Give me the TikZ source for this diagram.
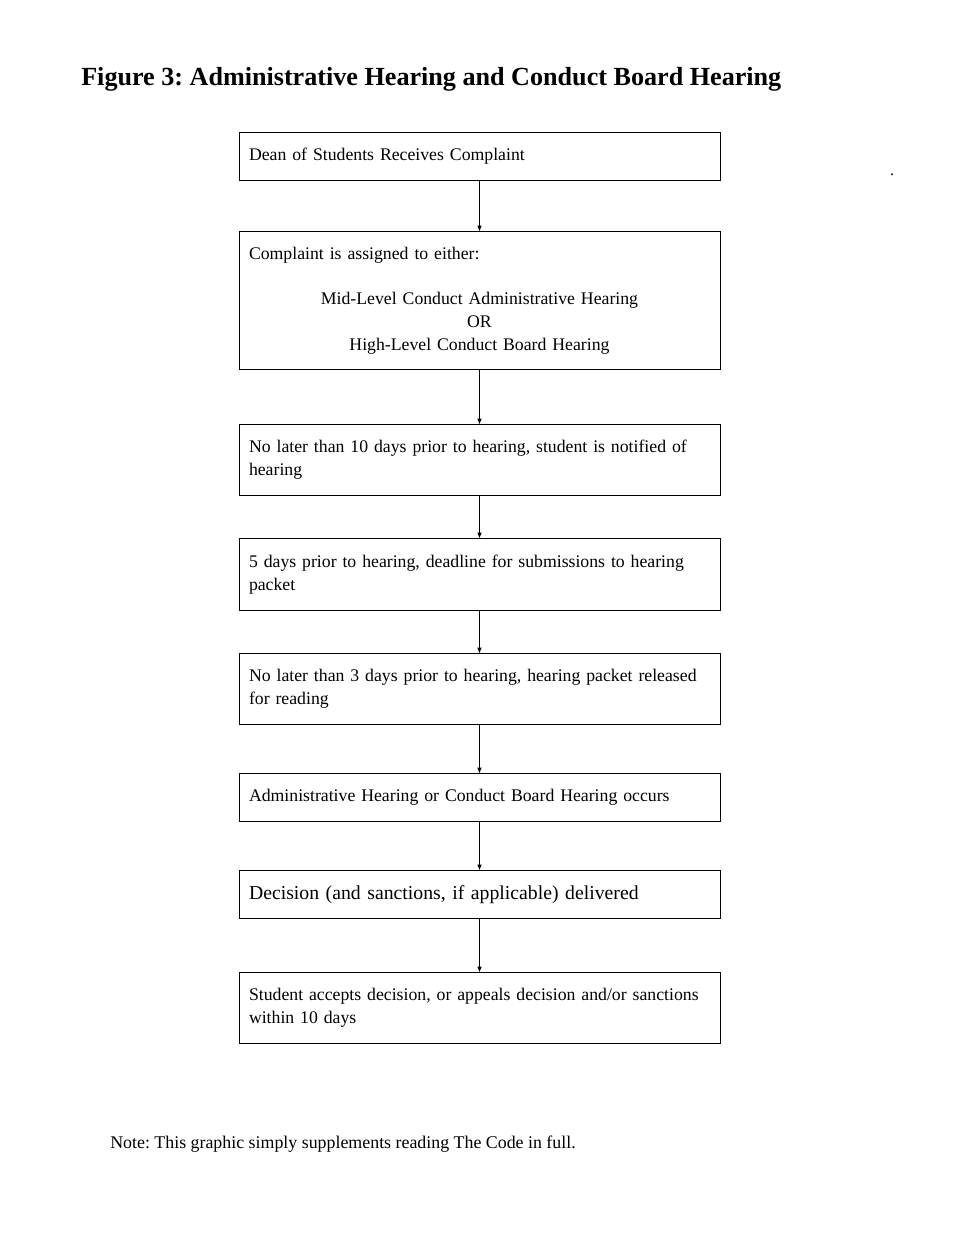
\documentclass[tikz,border=0pt]{standalone}
\usepackage{fontspec}
\setmainfont{Liberation Serif}
\usetikzlibrary{arrows.meta}
\frenchspacing
\begin{document}
\begin{tikzpicture}[x=0.75pt,y=-0.75pt,
  flowbox/.style={draw, line width=0.75pt, minimum width=481*0.75pt, inner xsep=10*0.75pt, inner ysep=0pt,
    text width=461*0.75pt, anchor=north, font=\frenchspacing\fontsize{13.3}{17}\selectfont},
  lbox/.style={flowbox, align=left},
  flowarrow/.style={draw, line width=0.75pt, -{Triangle[length=4pt,width=3pt]}}]
\useasboundingbox (0,0) rectangle (960,1248);
\node[anchor=base west, font=\frenchspacing\bfseries\fontsize{19.6}{22}\selectfont, inner sep=0pt] (title) at (81,86) {Figure 3: Administrative Hearing and Conduct Board Hearing};
\node[lbox, minimum height=48*0.75pt] (b1) at (479.5,132) {Dean of Students Receives Complaint};
\node[flowbox, minimum height=138*0.75pt] (b2) at (479.5,231) {{\raggedright Complaint is assigned to either:\par}\vspace{17pt}{\centering Mid-Level Conduct Administrative Hearing\\ OR\\ High-Level Conduct Board Hearing\par}};
\node[lbox, minimum height=71*0.75pt] (b3) at (479.5,424) {No later than 10 days prior to hearing, student is notified of hearing};
\node[lbox, minimum height=72*0.75pt] (b4) at (479.5,538) {5 days prior to hearing, deadline for submissions to hearing packet};
\node[lbox, minimum height=71*0.75pt] (b5) at (479.5,653) {No later than 3 days prior to hearing, hearing packet released for reading};
\node[lbox, minimum height=48*0.75pt] (b6) at (479.5,773) {Administrative Hearing or Conduct Board Hearing occurs};
\node[lbox, minimum height=48*0.75pt, font=\frenchspacing\fontsize{14.8}{18}\selectfont] (b7) at (479.5,870) {Decision (and sanctions, if applicable) delivered};
\node[lbox, minimum height=71*0.75pt] (b8) at (479.5,972) {Student accepts decision, or appeals decision and/or sanctions within 10 days};
\foreach \a/\b in {b1/b2,b2/b3,b3/b4,b4/b5,b5/b6,b6/b7,b7/b8} \draw[flowarrow] (\a.south) -- (\b.north);
\node[anchor=base west, font=\frenchspacing\fontsize{13.4}{17}\selectfont, inner sep=0pt] (note) at (110,1148) {Note: This graphic simply supplements reading The Code in full.};
\node[font=\fontsize{12}{17}\selectfont, inner sep=0pt, anchor=base] (dot) at (892,176) {.};
\end{tikzpicture}
\end{document}
